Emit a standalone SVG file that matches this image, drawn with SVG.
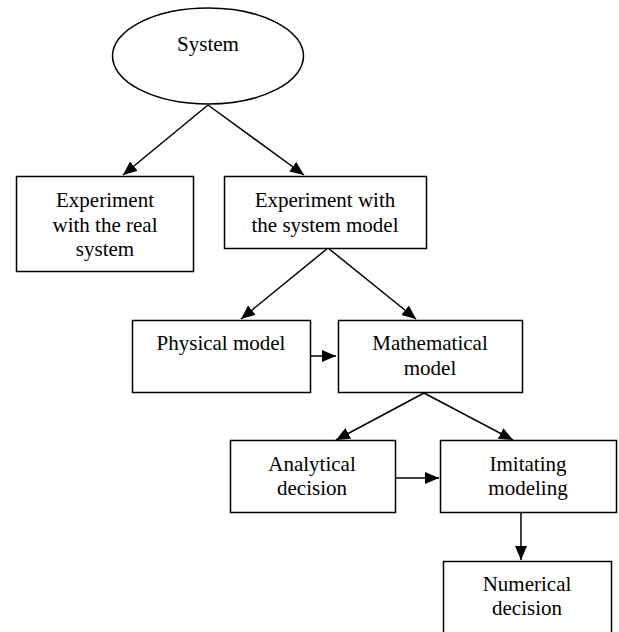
<svg xmlns="http://www.w3.org/2000/svg" width="619" height="632" viewBox="0 0 619 632">
<style>
.n{fill:#fff;stroke:#000;stroke-width:1.5}
.t{font-family:"Liberation Serif","Times New Roman",serif;font-size:21px;fill:#000;text-anchor:middle}
.c{stroke:#000;stroke-width:1.5;fill:none;marker-end:url(#ah)}
</style>
<defs>
<marker id="ah" markerUnits="userSpaceOnUse" markerWidth="16" markerHeight="14" refX="14" refY="6" orient="auto">
<path d="M0,0 L14,6 L0,12 Z" fill="#000"/>
</marker>
</defs>
<rect width="619" height="632" fill="#fff"/>
<g id="connectors">
<line class="c" x1="208" y1="105" x2="123" y2="175"/>
<line class="c" x1="208" y1="105" x2="304" y2="175"/>
<line class="c" x1="328" y1="248" x2="241" y2="319"/>
<line class="c" x1="328" y1="248" x2="416" y2="319"/>
<line class="c" x1="311" y1="356" x2="336" y2="356"/>
<line class="c" x1="424" y1="393" x2="336" y2="440"/>
<line class="c" x1="424" y1="393" x2="513" y2="440"/>
<line class="c" x1="395" y1="478" x2="439" y2="478"/>
<line class="c" x1="521" y1="512" x2="521" y2="560"/>
</g>
<g id="system">
<ellipse class="n" cx="208" cy="56" rx="95.5" ry="48"/>
<text class="t" x="208" y="51">System</text>
</g>
<g id="exp-real">
<rect class="n" x="16.5" y="176.5" width="177" height="95"/>
<text class="t" x="105" y="207">Experiment</text>
<text class="t" x="105" y="232">with the real</text>
<text class="t" x="105" y="256">system</text>
</g>
<g id="exp-model">
<rect class="n" x="224.5" y="176.5" width="202" height="72"/>
<text class="t" x="325" y="207">Experiment with</text>
<text class="t" x="325" y="232">the system model</text>
</g>
<g id="physical">
<rect class="n" x="132.5" y="320.5" width="178" height="72"/>
<text class="t" x="221" y="350">Physical model</text>
</g>
<g id="mathematical">
<rect class="n" x="338.5" y="320.5" width="184" height="72"/>
<text class="t" x="430" y="350">Mathematical</text>
<text class="t" x="430" y="375">model</text>
</g>
<g id="analytical">
<rect class="n" x="230.5" y="440.5" width="165" height="72"/>
<text class="t" x="312" y="471">Analytical</text>
<text class="t" x="312" y="495">decision</text>
</g>
<g id="imitating">
<rect class="n" x="440.5" y="440.5" width="176" height="72"/>
<text class="t" x="528" y="471">Imitating</text>
<text class="t" x="528" y="495">modeling</text>
</g>
<g id="numerical">
<rect class="n" x="443.5" y="561.5" width="168" height="80"/>
<text class="t" x="527" y="591">Numerical</text>
<text class="t" x="527" y="615">decision</text>
</g>
</svg>
